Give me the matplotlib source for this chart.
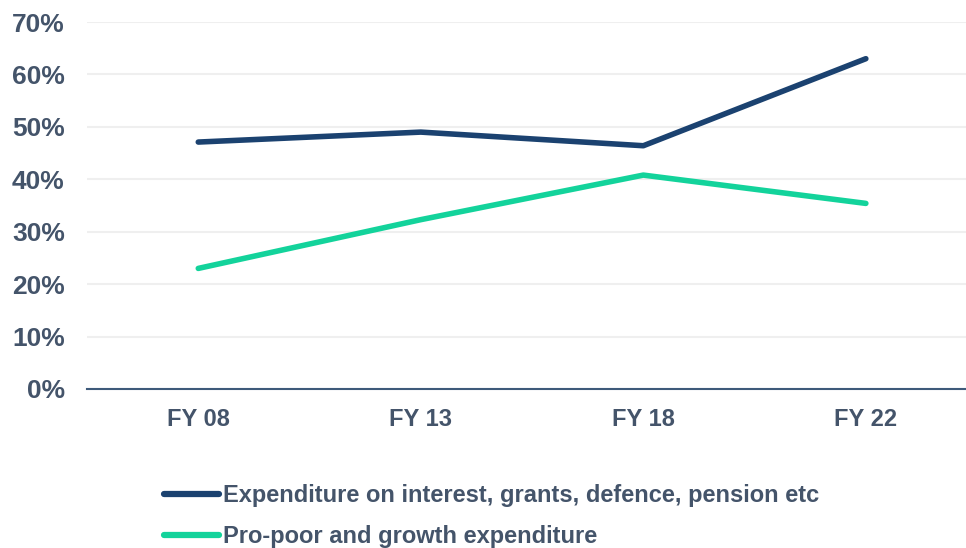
import matplotlib.pyplot as plt
from matplotlib.ticker import FuncFormatter

# Share of budget, %
years = ["FY 08", "FY 13", "FY 18", "FY 22"]
non_dev = [47.1, 49.0, 46.4, 63.0]
pro_poor = [23.0, 32.3, 40.8, 35.4]
labels = ["Expenditure on interest, grants, defence, pension etc",
          "Pro-poor and growth expenditure"]

DARK = "#1B4270"
GREEN = "#13D39B"
TEXT = "#44546A"

plt.rcParams['font.family'] = ['Liberation Sans', 'DejaVu Sans']

fig = plt.figure(figsize=(9.66, 5.48), dpi=100)
W, H = 966, 548
ax = fig.add_axes([87 / W, (H - 389) / H, (W - 87) / W, (389 - 22) / H])

x = range(len(years))
l1, = ax.plot(x, non_dev, color=DARK, lw=4, solid_capstyle='round', solid_joinstyle='round')
l2, = ax.plot(x, pro_poor, color=GREEN, lw=4, solid_capstyle='round', solid_joinstyle='round')

ax.set_ylim(0, 70)
ax.set_xlim(-0.5, 3.45)
ax.set_yticks(range(0, 71, 10))
ax.yaxis.set_major_formatter(FuncFormatter(lambda v, p: f"{v:.0f}%"))
ax.set_xticks(list(x))
ax.set_xticklabels(years)

ax.grid(axis='y', color='#EFEFEF', lw=1.5)
ax.set_axisbelow(True)
for s in ['top', 'right', 'left']:
    ax.spines[s].set_visible(False)
ax.spines['bottom'].set_color('#3E5A7A')
ax.spines['bottom'].set_linewidth(1.5)

ax.tick_params(axis='both', length=0)
ax.tick_params(axis='y', pad=16, labelsize=19, labelcolor=TEXT)
ax.tick_params(axis='x', pad=14, labelsize=17, labelcolor=TEXT)
for t in ax.get_xticklabels() + ax.get_yticklabels():
    t.set_fontweight('bold')

leg = fig.legend([l1, l2], labels, loc='upper left',
                 bbox_to_anchor=(143 / W, (H - 463) / H), frameon=False,
                 handlelength=2.3, handletextpad=0.17, labelspacing=0.75,
                 prop={'weight': 'bold', 'size': 17})
for t in leg.get_texts():
    t.set_color(TEXT)
for h in leg.get_lines():
    h.set_linewidth(4.5)

fig.savefig("out.png", dpi=100)
